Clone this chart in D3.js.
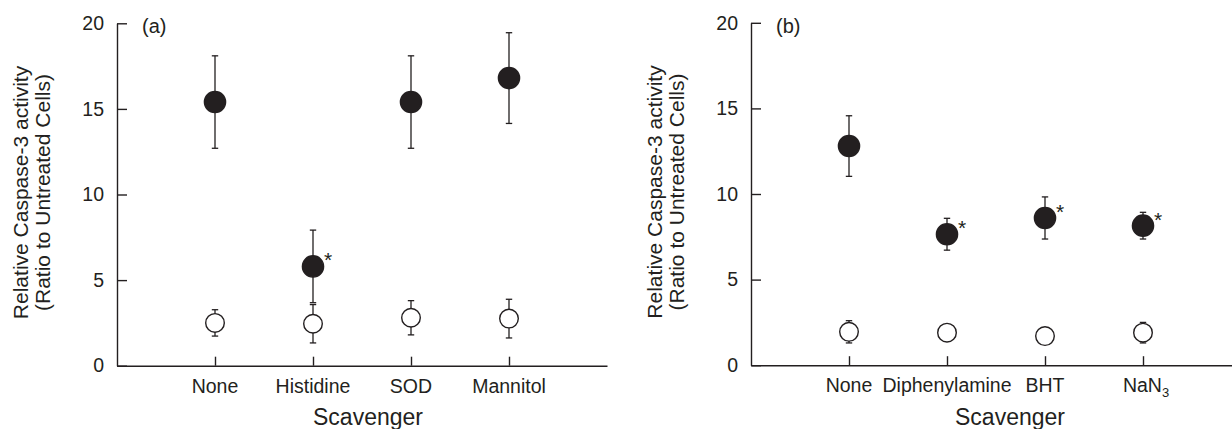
<!DOCTYPE html>
<html>
<head>
<meta charset="utf-8">
<script src="https://cdn.jsdelivr.net/npm/d3@7"></script>
<style>
  html, body { margin: 0; padding: 0; background: #fff; }
  svg { display: block; font-family: "Liberation Sans", Arial, Helvetica, sans-serif; }
</style>
</head>
<body>
<svg id="chart" width="1232" height="429"></svg>
<script>
// ---------- data ----------
const categoriesA = ["None", "Histidine", "SOD", "Mannitol"];
const treatedA    = [15.4, 5.8, 15.4, 16.8];
const treatedErrA = [2.7, 2.12, 2.7, 2.65];
const controlA    = [2.5, 2.45, 2.8, 2.75];
const controlErrA = [0.77, 1.12, 1.0, 1.13];
const sigA        = [false, true, false, false];

const categoriesB = ["None", "Diphenylamine", "BHT", "NaN|3"]; // "|" marks a subscript
const treatedB    = [12.8, 7.65, 8.6, 8.15];
const treatedErrB = [1.77, 0.93, 1.23, 0.78];
const controlB    = [1.95, 1.9, 1.7, 1.9];
const controlErrB = [0.65, 0.4, 0.4, 0.6];
const sigB        = [false, true, true, true];

const yTicks = [0, 5, 10, 15, 20];
const panelLabels = ["(a)", "(b)"];
const yTitle = ["Relative Caspase-3 activity", "(Ratio to Untreated Cells)"];
const xTitle = "Scavenger";

// ---------- drawing ----------
const svg = d3.select("#chart");
const ink = "#231f20";

function drawPanel(opt) {
  const g = svg.append("g");
  const x = d3.scaleLinear().domain([0, 5]).range([opt.x0, opt.x0 + 490]);
  const y = d3.scaleLinear().domain([0, 20]).range([opt.yBottom, opt.yTop]);

  // y axis
  const yAxis = g.append("g")
    .attr("transform", `translate(${opt.x0},0)`)
    .call(d3.axisLeft(y).tickValues(yTicks).tickSizeInner(-10).tickSizeOuter(0).tickPadding(13));
  // x axis
  const xAxis = g.append("g")
    .attr("transform", `translate(0,${opt.yBottom})`)
    .call(d3.axisBottom(x).tickValues(opt.cats.map((d, i) => i + 1))
      .tickFormat("").tickSizeInner(-9).tickSizeOuter(0));

  [yAxis, xAxis].forEach(a => {
    a.attr("font-family", null).attr("font-size", null);
    a.selectAll("path.domain").attr("stroke", ink).attr("stroke-width", 1.4);
    a.selectAll(".tick line").attr("stroke", ink).attr("stroke-width", 1.4);
  });
  yAxis.selectAll(".tick text").attr("fill", ink).attr("font-size", 19.5);

  // x tick labels (with optional subscript)
  opt.cats.forEach((c, i) => {
    const parts = c.split("|");
    const t = g.append("text")
      .attr("x", x(i + 1) + (parts.length > 1 ? 3 : 0))
      .attr("y", opt.yBottom + 27)
      .attr("text-anchor", "middle")
      .attr("font-size", 19.5).attr("fill", ink);
    t.append("tspan").text(parts[0]);
    if (parts.length > 1) {
      t.append("tspan").attr("font-size", 13).attr("dy", 5).text(parts[1]);
    }
  });

  // panel label
  g.append("text").attr("x", opt.x0 + 25).attr("y", opt.yTop + 10)
    .attr("font-size", 20).attr("fill", ink).text(opt.label);

  // y title
  const yt = g.append("text")
    .attr("transform", `translate(${opt.x0 - 89},${(opt.yTop + opt.yBottom) / 2 - 2}) rotate(-90)`)
    .attr("text-anchor", "middle").attr("font-size", 21).attr("fill", ink);
  yt.append("tspan").attr("x", 0).attr("y", 0).text(yTitle[0]);
  yt.append("tspan").attr("x", 0).attr("y", 22).text(yTitle[1]);

  // x title
  g.append("text").attr("x", opt.xTitleX).attr("y", 425)
    .attr("text-anchor", "middle").attr("font-size", 23).attr("fill", ink).text(xTitle);

  // error bars
  const series = [
    { v: opt.ctrl, e: opt.ctrlErr, fill: "#fff", r: 9.3 },
    { v: opt.trt, e: opt.trtErr, fill: ink, r: 10.6 }
  ];
  series.forEach(s => {
    const eb = g.append("g").selectAll("g").data(s.v).join("g");
    eb.append("line")
      .attr("x1", (d, i) => x(i + 1)).attr("x2", (d, i) => x(i + 1))
      .attr("y1", (d, i) => y(d + s.e[i])).attr("y2", (d, i) => y(d - s.e[i]))
      .attr("stroke", ink).attr("stroke-width", 1.3);
    [1, -1].forEach(sg => {
      eb.append("line")
        .attr("x1", (d, i) => x(i + 1) - 3.2).attr("x2", (d, i) => x(i + 1) + 3.2)
        .attr("y1", (d, i) => y(d + sg * s.e[i])).attr("y2", (d, i) => y(d + sg * s.e[i]))
        .attr("stroke", ink).attr("stroke-width", 1.3);
    });
  });
  series.forEach(s => {
    g.append("g").selectAll("circle").data(s.v).join("circle")
      .attr("cx", (d, i) => x(i + 1)).attr("cy", d => y(d))
      .attr("r", s.r).attr("fill", s.fill)
      .attr("stroke", ink).attr("stroke-width", 1.4);
  });

  // significance asterisks
  const sigData = opt.trt.map((v, i) => ({ v, i })).filter(d => opt.sig[d.i]);
  g.append("g").selectAll("text").data(sigData).join("text")
    .attr("x", d => x(d.i + 1) + 11)
    .attr("y", d => y(d.v) + 1)
    .attr("font-size", 21).attr("fill", ink).text("*");
}

drawPanel({ x0: 117, yTop: 23.3, yBottom: 365.7, cats: categoriesA, trt: treatedA, trtErr: treatedErrA,
            ctrl: controlA, ctrlErr: controlErrA, sig: sigA, label: panelLabels[0], xTitleX: 368 });
drawPanel({ x0: 751, yTop: 22.8, yBottom: 365.2, cats: categoriesB, trt: treatedB, trtErr: treatedErrB,
            ctrl: controlB, ctrlErr: controlErrB, sig: sigB, label: panelLabels[1], xTitleX: 1010 });
</script>
</body>
</html>
